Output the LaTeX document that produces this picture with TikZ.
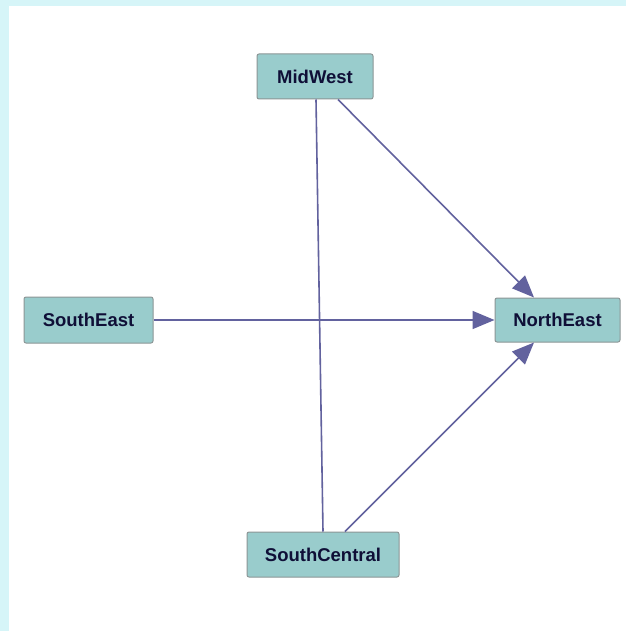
\documentclass[tikz,border=0pt]{standalone}
\usepackage{fontspec}
\setmainfont{Liberation Sans}
\usetikzlibrary{arrows.meta}
\definecolor{band}{RGB}{214,245,248}
\definecolor{boxfill}{RGB}{153,204,204}
\definecolor{boxline}{RGB}{140,150,150}
\definecolor{edgec}{RGB}{98,98,158}
\definecolor{txt}{RGB}{15,15,55}
\begin{document}
\begin{tikzpicture}[x=1pt,y=-1pt,
  nodebox/.style={draw=boxline,fill=boxfill,rounded corners=2pt,line width=1pt,
    inner sep=0pt,font=\bfseries\fontsize{18.5}{22}\selectfont,text=txt},
  edge/.style={draw=edgec,line width=1.6pt},
  arr/.style={edge,-{Triangle[length=22pt,width=18pt]}}]
\useasboundingbox (0,0) rectangle (626,631);
\fill[white] (0,0) rectangle (626,631);
\fill[band] (0,0) rectangle (626,6.5);
\fill[band] (0,0) rectangle (8.5,631);
\node[nodebox,minimum width=116pt,minimum height=45pt] (mw) at (315,76.5) {MidWest};
\node[nodebox,minimum width=129pt,minimum height=46pt] (se) at (88.5,320) {SouthEast};
\node[nodebox,minimum width=125pt,minimum height=44pt] (ne) at (557.5,320) {NorthEast};
\node[nodebox,minimum width=152pt,minimum height=45pt] (sc) at (323,554.5) {SouthCentral};
\draw[edge] (mw.south -| 316,0) -- (sc.north -| 323,0);
\draw[arr] (mw.south -| 338,0) -- (ne.north -| 534,0);
\draw[arr] (se.east) -- (ne.west);
\draw[arr] (sc.north -| 345,0) -- (ne.south -| 534,0);
\end{tikzpicture}
\end{document}
